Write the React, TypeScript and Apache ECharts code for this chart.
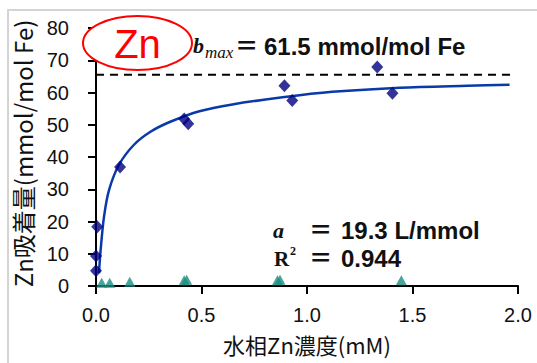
import React, { useEffect, useRef } from "react";
import * as echarts from "echarts";

const diamondX = [0.0, 0.0, 0.006, 0.114, 0.418, 0.437, 0.893, 0.93, 1.333, 1.405];
const diamondY = [4.75, 9.3, 18.4, 36.9, 51.8, 50.3, 62.1, 57.5, 67.9, 59.8];

const triangleX = [0.027, 0.065, 0.16, 0.418, 0.43, 0.86, 0.872, 1.447];
const triangleY = [1.0, 1.0, 1.3, 1.8, 1.9, 1.8, 1.9, 1.8];

const curveX = [0.014, 0.022, 0.038, 0.062, 0.109, 0.18, 0.26, 0.355, 0.49, 0.646, 0.884, 1.12, 1.44, 1.76, 1.96];
const curveY = [4.0, 11.2, 21.5, 29.8, 37.6, 43.8, 47.9, 51.0, 54.2, 56.3, 58.5, 60.2, 61.5, 62.1, 62.4];

const bmaxLine = 65.5;

const xTicks = [0, 0.5, 1.0, 1.5, 2.0];
const yTicks = [0, 10, 20, 30, 40, 50, 60, 70, 80];

const xName = "水相Zn濃度(mM)";
const yName = "Zn吸着量(mmol/mol Fe)";

export default function App() {
  const ref = useRef<HTMLDivElement>(null);
  useEffect(() => {
    if (!ref.current) return;
    const chart = echarts.init(ref.current, undefined, { renderer: "svg" });
    const font = "'Liberation Sans', Arial, sans-serif";
    const cjk = "'Noto Sans CJK JP', sans-serif";
    const serif = "'Liberation Serif', serif";
    const txt = (x: number, y: number, text: string, extra: any, scaleX = 1) => ({
      type: "text",
      x,
      y,
      scaleX,
      z: 11,
      style: { text, verticalAlign: "middle", fill: "#111", lineHeight: 20, ...extra },
    });
    chart.setOption({
      animation: false,
      backgroundColor: "#ffffff",
      grid: { left: 96, right: 19, top: 28, bottom: 77, containLabel: false },
      xAxis: {
        type: "value",
        min: xTicks[0],
        max: xTicks[xTicks.length - 1],
        interval: 0.5,
        splitLine: { show: false },
        axisLine: { show: true, onZero: false, lineStyle: { color: "#000", width: 2 } },
        axisTick: { show: true, length: 8, lineStyle: { color: "#000", width: 2 } },
        axisLabel: {
          margin: 19,
          fontSize: 20,
          color: "#111",
          fontFamily: font,
          formatter: (v: number) => v.toFixed(1),
        },
        name: xName,
        nameLocation: "middle",
        nameGap: 47,
        nameTextStyle: { fontSize: 22, color: "#111", fontFamily: cjk },
      },
      yAxis: {
        type: "value",
        min: yTicks[0],
        max: yTicks[yTicks.length - 1],
        interval: 10,
        splitLine: { show: false },
        axisLine: { show: true, onZero: false, lineStyle: { color: "#000", width: 2 } },
        axisTick: { show: true, length: 8, lineStyle: { color: "#000", width: 2 } },
        axisLabel: { margin: 27, fontSize: 20, color: "#111", fontFamily: font },
        name: yName,
        nameLocation: "middle",
        nameGap: 62,
        nameTextStyle: { fontSize: 24, color: "#111", fontFamily: cjk, padding: [0, 0, 0, 7] },
      },
      series: [
        {
          type: "line",
          data: curveX.map((x, i) => [x, curveY[i]]),
          smooth: 0.3,
          showSymbol: false,
          lineStyle: { color: "#0a3aa8", width: 2.5 },
          z: 2,
        },
        {
          type: "line",
          data: [
            [0, bmaxLine],
            [1.98, bmaxLine],
          ],
          showSymbol: false,
          lineStyle: { color: "#000", width: 2, type: [8, 6] },
          z: 1,
        },
        {
          type: "scatter",
          data: diamondX.map((x, i) => [x, diamondY[i]]),
          symbol: "diamond",
          symbolSize: [12, 13],
          itemStyle: { color: "#000080" },
          z: 3,
        },
        {
          type: "scatter",
          data: triangleX.map((x, i) => [x, triangleY[i]]),
          symbol: "triangle",
          symbolSize: [11, 10],
          itemStyle: { color: "#1a8c80" },
          z: 3,
        },
      ],
      graphic: [
        {
          type: "rect",
          shape: { x: 8, y: 10, width: 700, height: 500 },
          style: { fill: "none", stroke: "#d4d4d4", lineWidth: 2 },
          z: 0,
          silent: true,
        },
        {
          type: "ellipse",
          shape: { cx: 137.5, cy: 43, rx: 54.5, ry: 27 },
          style: { fill: "#ffffff", stroke: "#ff0000", lineWidth: 2 },
          z: 10,
        },
        {
          type: "text",
          x: 137.5,
          y: 44,
          style: {
            text: "Zn",
            fill: "#ff0000",
            fontSize: 40,
            fontFamily: font,
            align: "center",
            verticalAlign: "middle",
          },
          z: 11,
        },
        txt(193, 45, "b", { fontSize: 22, fontStyle: "italic", fontWeight: "bold", fontFamily: serif }),
        txt(205, 52, "max", { fontSize: 17, fontStyle: "italic", fontFamily: serif, lineHeight: 16 }),
        txt(237, 46, "=", { fontSize: 22, fontWeight: "bold", fontFamily: font }, 1.5),
        txt(264, 46, "61.5 mmol/mol Fe", { fontSize: 24, fontWeight: "bold", fontFamily: font }),
        txt(273, 230, "a", { fontSize: 22, fontStyle: "italic", fontWeight: "bold", fontFamily: serif }),
        txt(311, 230, "=", { fontSize: 22, fontWeight: "bold", fontFamily: font }, 1.5),
        txt(341, 230, "19.3 L/mmol", { fontSize: 24, fontWeight: "bold", fontFamily: font }),
        txt(274, 259, "R", { fontSize: 21, fontWeight: "bold", fontFamily: serif }),
        txt(290, 251, "2", { fontSize: 12, fontWeight: "bold", fontFamily: serif, lineHeight: 12 }),
        txt(311, 258, "=", { fontSize: 22, fontWeight: "bold", fontFamily: font }, 1.5),
        txt(341, 258, "0.944", { fontSize: 24, fontWeight: "bold", fontFamily: font }),
      ],
    });
    return () => chart.dispose();
  }, []);
  return (
    <div
      ref={ref}
      style={{ position: "fixed", left: 0, top: 0, width: 537, height: 363 }}
    />
  );
}
